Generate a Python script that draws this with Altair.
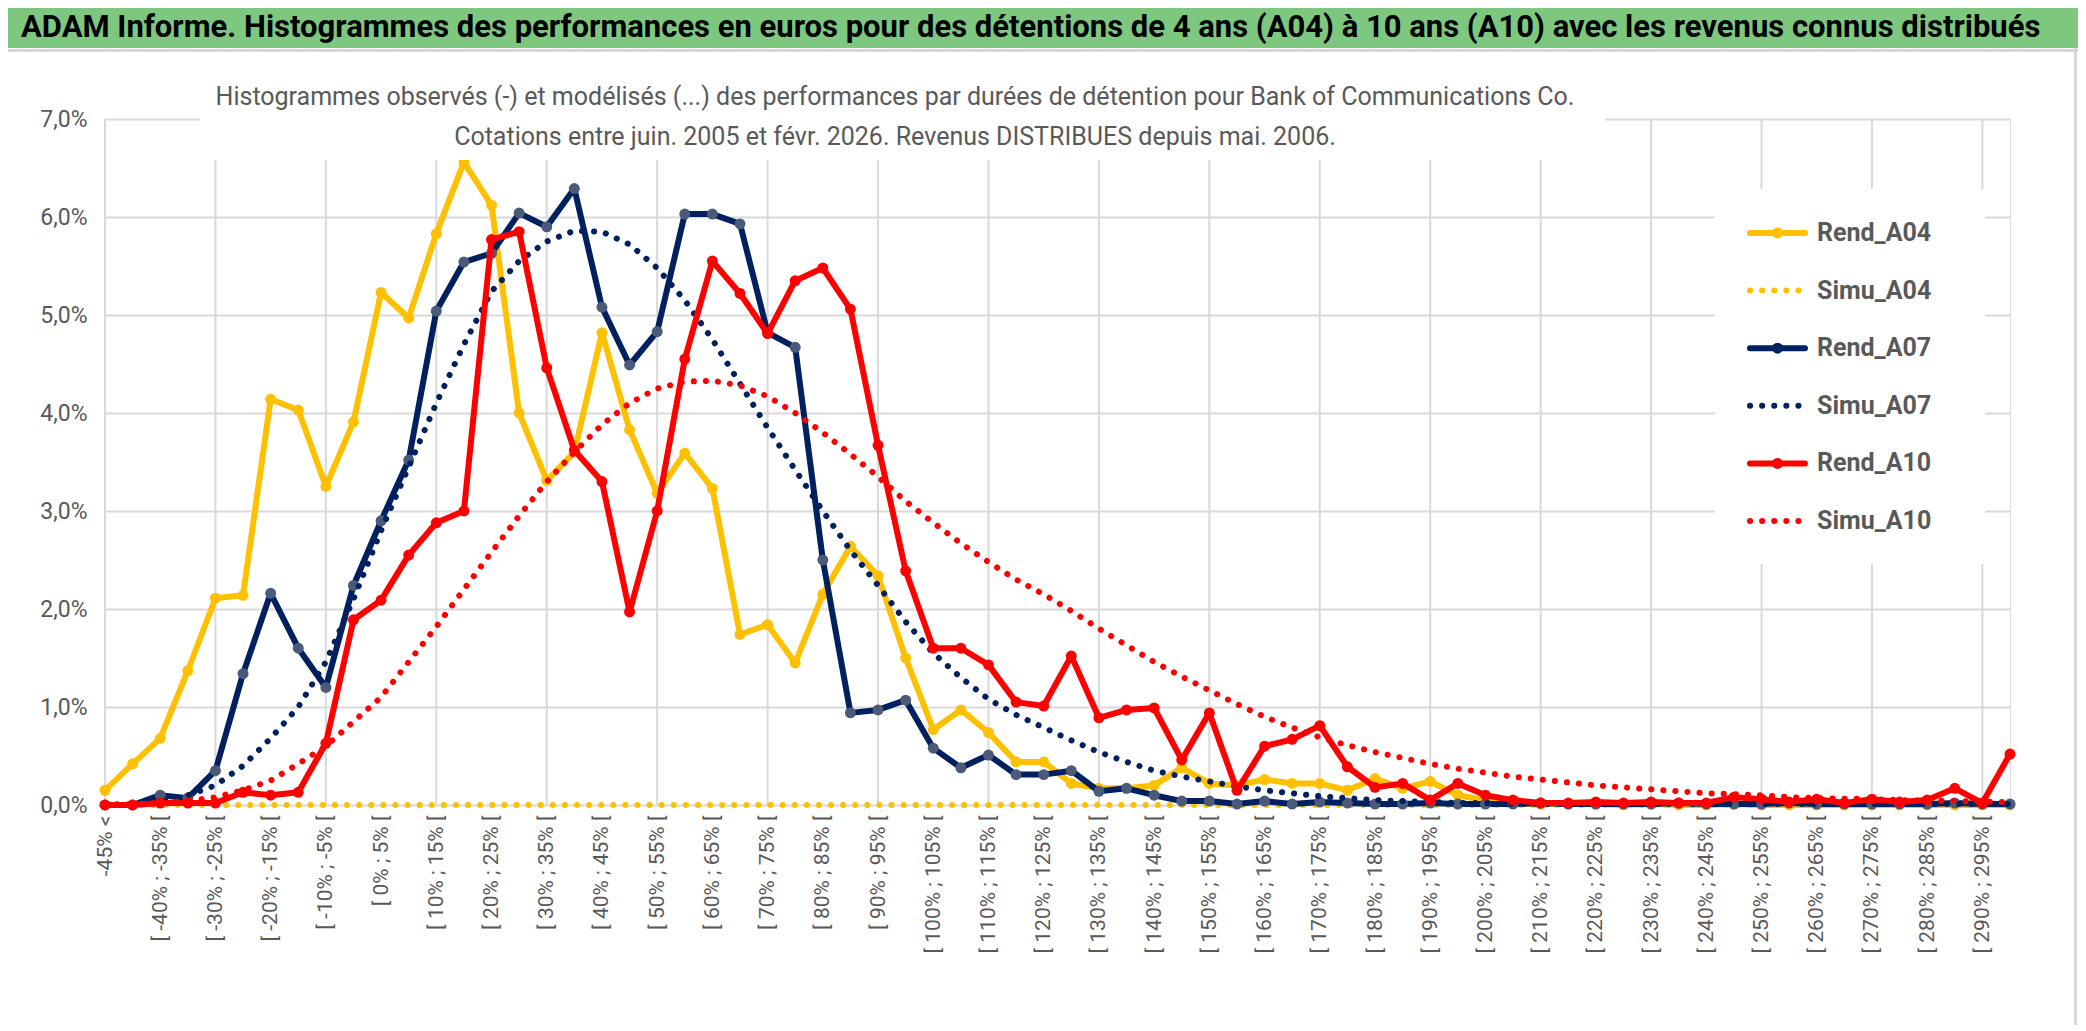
import altair as alt
import pandas as pd

FONT = "Roboto"

lows = list(range(-45, 300, 5))
categories = ["-45% <"] + [f"[ {lo}% ; {lo + 5}% [" for lo in lows]

rend_a04 = [0.15, 0.42, 0.68, 1.37, 2.11, 2.14, 4.14, 4.03, 3.25, 3.91,
            5.23, 4.97, 5.83, 6.56, 6.12, 4.00, 3.31, 3.60, 4.82, 3.83,
            3.18, 3.59, 3.23, 1.74, 1.84, 1.45, 2.15, 2.64, 2.34, 1.50,
            0.77, 0.97, 0.74, 0.44, 0.44, 0.22, 0.17, 0.17, 0.20, 0.38,
            0.22, 0.20, 0.26, 0.22, 0.22, 0.15, 0.27, 0.17, 0.24, 0.10,
            0.05, 0.02, 0.01, 0.01, 0.01, 0.00, 0.01, 0.00, 0.00, 0.01,
            0.00, 0.00, 0.00, 0.00, 0.00, 0.00, 0.00, 0.00, 0.00, 0.00]
simu_a04 = [0.00, 0.00, 0.00, 0.00, 0.00, 0.00, 0.00, 0.00, 0.00, 0.00,
            0.00, 0.00, 0.00, 0.00, 0.00, 0.00, 0.00, 0.00, 0.00, 0.00,
            0.00, 0.00, 0.00, 0.00, 0.00, 0.00, 0.00, 0.00, 0.00, 0.00,
            0.00, 0.00, 0.00, 0.00, 0.00, 0.00, 0.00, 0.00, 0.00, 0.00,
            0.00, 0.00, 0.00, 0.00, 0.00, 0.00, 0.00, 0.00, 0.00, 0.00,
            0.00, 0.00, 0.00, 0.00, 0.00, 0.00, 0.00, 0.00, 0.00, 0.00,
            0.00, 0.00, 0.00, 0.00, 0.00, 0.00, 0.00, 0.00, 0.00, 0.00]
rend_a07 = [0.00, 0.00, 0.10, 0.07, 0.35, 1.34, 2.16, 1.60, 1.20, 2.24,
            2.90, 3.52, 5.04, 5.54, 5.63, 6.04, 5.90, 6.29, 5.08, 4.49,
            4.83, 6.03, 6.03, 5.93, 4.82, 4.67, 2.50, 0.94, 0.97, 1.07,
            0.58, 0.38, 0.51, 0.31, 0.31, 0.35, 0.14, 0.17, 0.10, 0.04,
            0.04, 0.01, 0.04, 0.01, 0.03, 0.02, 0.01, 0.01, 0.02, 0.01,
            0.01, 0.01, 0.02, 0.01, 0.01, 0.01, 0.01, 0.02, 0.01, 0.01,
            0.01, 0.02, 0.01, 0.01, 0.01, 0.01, 0.01, 0.02, 0.01, 0.01]
simu_a07 = [0.00, 0.01, 0.03, 0.10, 0.20, 0.40, 0.68, 1.00, 1.46, 2.10,
            2.80, 3.45, 4.10, 4.70, 5.24, 5.55, 5.75, 5.86, 5.85, 5.72,
            5.48, 5.15, 4.75, 4.30, 3.85, 3.42, 3.00, 2.60, 2.24, 1.87,
            1.55, 1.30, 1.08, 0.92, 0.79, 0.66, 0.54, 0.44, 0.35, 0.29,
            0.24, 0.19, 0.15, 0.12, 0.09, 0.07, 0.05, 0.04, 0.03, 0.02,
            0.02, 0.01, 0.01, 0.01, 0.01, 0.01, 0.01, 0.01, 0.01, 0.01,
            0.01, 0.01, 0.01, 0.01, 0.01, 0.01, 0.01, 0.01, 0.01, 0.01]
rend_a10 = [0.00, 0.00, 0.02, 0.02, 0.02, 0.13, 0.10, 0.13, 0.63, 1.89,
            2.09, 2.55, 2.88, 3.00, 5.77, 5.85, 4.46, 3.62, 3.30, 1.97,
            3.00, 4.55, 5.55, 5.22, 4.81, 5.35, 5.48, 5.06, 3.67, 2.39,
            1.60, 1.60, 1.43, 1.05, 1.01, 1.52, 0.89, 0.97, 0.99, 0.46,
            0.94, 0.15, 0.60, 0.67, 0.81, 0.39, 0.18, 0.22, 0.05, 0.22,
            0.10, 0.05, 0.02, 0.02, 0.03, 0.02, 0.03, 0.02, 0.02, 0.08,
            0.06, 0.03, 0.06, 0.02, 0.06, 0.03, 0.05, 0.17, 0.02, 0.52]
simu_a10 = [0.00, 0.01, 0.02, 0.04, 0.08, 0.15, 0.25, 0.42, 0.60, 0.85,
            1.10, 1.46, 1.82, 2.20, 2.58, 2.95, 3.30, 3.60, 3.88, 4.10,
            4.25, 4.32, 4.33, 4.28, 4.17, 4.00, 3.80, 3.58, 3.35, 3.10,
            2.88, 2.67, 2.48, 2.30, 2.15, 1.98, 1.80, 1.63, 1.46, 1.31,
            1.17, 1.03, 0.90, 0.79, 0.69, 0.61, 0.54, 0.48, 0.42, 0.37,
            0.33, 0.29, 0.26, 0.23, 0.20, 0.18, 0.16, 0.14, 0.12, 0.11,
            0.10, 0.08, 0.07, 0.065, 0.06, 0.05, 0.045, 0.04, 0.035, 0.03]

series_names = ["Rend_A04", "Simu_A04", "Rend_A07", "Simu_A07", "Rend_A10", "Simu_A10"]
series_values = [rend_a04, simu_a04, rend_a07, simu_a07, rend_a10, simu_a10]
series_colors = ["#FFC000", "#FFC000", "#002060", "#002060", "#FF0000", "#FF0000"]
marker_colors = ["#FFC000", None, "#4A5A78", None, "#FF0000", None]

title_text = ("ADAM Informe. Histogrammes des performances en euros pour des détentions de 4 ans (A04) "
              "à 10 ans (A10) avec les revenus connus distribués")
subtitle_1 = ("Histogrammes observés (-) et modélisés (...) des performances par durées de détention "
              "pour Bank of Communications Co.")
subtitle_2 = "Cotations entre juin. 2005 et févr. 2026. Revenus DISTRIBUES depuis mai. 2006."

W, H = 1905, 686
PAD_L, PAD_T, PAD_R, PAD_B = 97, 111, 68, 220

rows = []
for name, vals in zip(series_names, series_values):
    for c, v in zip(categories, vals):
        rows.append({"series": name, "cat": c, "value": v})
df = pd.DataFrame(rows)

x_scale = alt.Scale(type="point", padding=0, domain=categories)
x_enc = alt.X("cat:N", scale=x_scale,
              axis=alt.Axis(values=categories[::2], labelAngle=-90, labelFontSize=21,
                            labelColor="#595959", labelFont=FONT, ticks=False, domain=False,
                            grid=False, labelPadding=10, labelLimit=400, title=None))
y_enc = alt.Y("value:Q", scale=alt.Scale(domain=[0, 7], nice=False),
              axis=alt.Axis(values=[0, 1, 2, 3, 4, 5, 6, 7],
                            labelExpr="replace(format(datum.value, '.1f'), '.', ',') + '%'",
                            grid=True, gridColor="#D9D9D9", gridWidth=2, ticks=False,
                            domain=False, labelFontSize=23, labelColor="#595959",
                            labelFont=FONT, labelPadding=18, title=None))

one = pd.DataFrame({"a": [0]})

vgrid = alt.Chart(pd.DataFrame({"cat": categories[::4]})).mark_rule(
    color="#D9D9D9", strokeWidth=2).encode(x=alt.X("cat:N", scale=x_scale))

layers = [vgrid]
for name, col, mcol in zip(series_names, series_colors, marker_colors):
    sub = df[df.series == name]
    if name.startswith("Rend"):
        line = alt.Chart(sub).mark_line(color=col, strokeWidth=6, strokeJoin="round",
                                        strokeCap="round").encode(x=x_enc, y=y_enc)
        pts = alt.Chart(sub).mark_circle(color=mcol, opacity=1, size=120).encode(x=x_enc, y=y_enc)
        layers += [line, pts]
    else:
        line = alt.Chart(sub).mark_line(color=col, strokeWidth=6, strokeCap="round",
                                        strokeDash=[0.1, 12]).encode(x=x_enc, y=y_enc)
        layers.append(line)

main = alt.layer(*layers)

# decorations
banner = alt.Chart(one).mark_rect(color="#7DC87E").encode(
    x=alt.value(-120), x2=alt.value(W + 120), y=alt.value(-130), y2=alt.value(-71))
banner_line = alt.Chart(one).mark_rect(color="#D6D6D6").encode(
    x=alt.value(-120), x2=alt.value(W + 120), y=alt.value(-70), y2=alt.value(-67))
frame_right = alt.Chart(one).mark_rect(color="#D6D6D6").encode(
    x=alt.value(W + 64), x2=alt.value(W + 67), y=alt.value(-71), y2=alt.value(H + 230))
title = alt.Chart(pd.DataFrame({"t": [title_text]})).mark_text(
    align="left", baseline="middle", font=FONT, fontSize=31, fontWeight="bold", color="black"
).encode(x=alt.value(-84), y=alt.value(-91), text="t:N")
sub_box = alt.Chart(one).mark_rect(color="white").encode(
    x=alt.value(95), x2=alt.value(1500), y=alt.value(-62), y2=alt.value(41))
sub_text = alt.Chart(pd.DataFrame({"t": [subtitle_1, subtitle_2], "k": [0, 1]})).mark_text(
    align="center", baseline="middle", font=FONT, fontSize=25, color="#595959"
).encode(x=alt.value(790),
         y=alt.Y("k:O", scale=alt.Scale(type="point", padding=0, range=[-22, 18]), axis=None),
         text="t:N")

# legend
leg_df = pd.DataFrame({"series": series_names})
leg_y = alt.Y("series:N", scale=alt.Scale(type="point", padding=0, domain=series_names,
                                          range=[114, 402]), axis=None)
col_scale = alt.Scale(domain=series_names, range=series_colors)
dash_scale = alt.Scale(domain=series_names,
                       range=[[1, 0], [0.1, 12], [1, 0], [0.1, 12], [1, 0], [0.1, 12]])
LX1, LX2, LT = 1645, 1700, 1712
leg_box = alt.Chart(one).mark_rect(color="white").encode(
    x=alt.value(1610), x2=alt.value(1880), y=alt.value(70), y2=alt.value(445))
leg_line = alt.Chart(leg_df).mark_rule(strokeWidth=6, strokeCap="round").encode(
    x=alt.value(LX1), x2=alt.value(LX2), y=leg_y,
    color=alt.Color("series:N", scale=col_scale, legend=None),
    strokeDash=alt.StrokeDash("series:N", scale=dash_scale, legend=None))
leg_pts = alt.Chart(leg_df[leg_df.series.str.startswith("Rend")]).mark_circle(size=120, opacity=1).encode(
    x=alt.value((LX1 + LX2) / 2), y=leg_y,
    color=alt.Color("series:N", scale=alt.Scale(domain=["Rend_A04", "Rend_A07", "Rend_A10"],
                                                range=["#FFC000", "#4A5A78", "#FF0000"]), legend=None))
leg_text = alt.Chart(leg_df).mark_text(align="left", baseline="middle", font=FONT, fontSize=25,
                                       fontWeight="bold", color="#595959").encode(
    x=alt.value(LT), y=leg_y, text="series:N")
legend = alt.layer(leg_box, leg_line, leg_pts, leg_text)

chart = alt.layer(main, sub_box, sub_text, banner, banner_line, frame_right, title, legend).resolve_scale(
    y="independent", color="independent").properties(
    width=W, height=H,
    autosize=alt.AutoSizeParams(type="none"),
    padding={"left": PAD_L, "top": PAD_T, "right": PAD_R, "bottom": PAD_B},
).configure_view(stroke=None).configure(background="white")

chart.save("out.html", embed_options={"renderer": "svg", "actions": False})
